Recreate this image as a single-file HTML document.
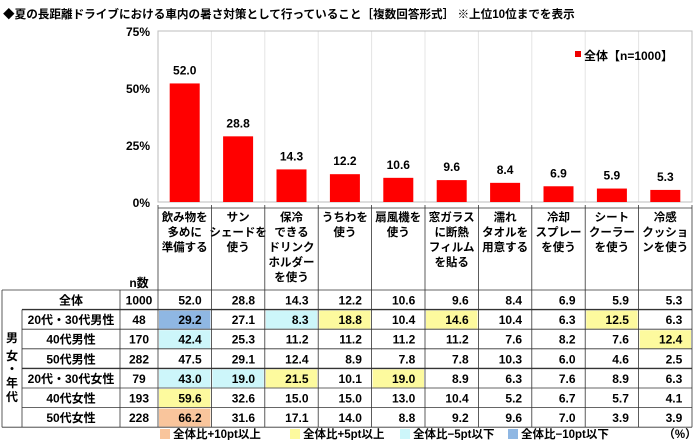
<!DOCTYPE html>
<html><head><meta charset="utf-8"><style>
body{margin:0;background:#fff}
svg{display:block;font-family:"Liberation Sans","Noto Sans CJK JP",sans-serif;font-weight:bold}
</style></head><body>
<svg width="700" height="440" viewBox="0 0 700 440" xmlns="http://www.w3.org/2000/svg">
<text x="3" y="18" font-size="11.6" fill="#000">◆夏の長距離ドライブにおける車内の暑さ対策として行っていること［複数回答形式］ ※上位10位までを表示</text>
<g id="chart"></g>
<g id="table"></g>
</svg>
<script>
const ns="http://www.w3.org/2000/svg";
function el(p,t,a,txt){const e=document.createElementNS(ns,t);for(const k in a)e.setAttribute(k,a[k]);if(txt!==undefined)e.textContent=txt;p.appendChild(e);return e;}
const C=document.getElementById('chart'),T=document.getElementById('table');
const x0=158,cw=53.4,y0=202,ppu=57/25;
const vals=[52.0,28.8,14.3,12.2,10.6,9.6,8.4,6.9,5.9,5.3];
for(let i=1;i<10;i++)el(C,'line',{x1:x0+i*cw,x2:x0+i*cw,y1:31,y2:y0,stroke:'#e4e4e4','stroke-width':1});
el(C,'rect',{x:x0,y:31,width:534,height:171,fill:'none',stroke:'#bdbdbd','stroke-width':1});
[['75%',31],['50%',88],['25%',145],['0%',202]].forEach(([t,y])=>el(C,'text',{x:150,y:y+5,'font-size':12,'text-anchor':'end'},t));
vals.forEach((v,i)=>{const cx=x0+i*cw+cw/2,h=v*ppu;
el(C,'rect',{x:cx-15,y:y0-h,width:30,height:h,fill:'#ff0000'});
el(C,'text',{x:cx,y:y0-h-9,'font-size':12,'text-anchor':'middle'},v.toFixed(1));});
el(C,'rect',{x:575,y:51,width:6,height:6,fill:'#e00'});
el(C,'text',{x:584,y:60,'font-size':12},'全体【n=1000】');
const heads=[['飲み物を','多めに','準備する'],['サン','シェードを','使う'],['保冷','できる','ドリンク','ホルダー','を使う'],['うちわを','使う'],['扇風機を','使う'],['窓ガラス','に断熱','フィルム','を貼る'],['濡れ','タオルを','用意する'],['冷却','スプレー','を使う'],['シート','クーラー','を使う'],['冷感','クッショ','ンを使う']];
heads.forEach((h,i)=>{const cx=x0+i*cw+cw/2;h.forEach((l,j)=>el(T,'text',{x:cx,y:221+j*15,'font-size':11.5,'text-anchor':'middle'},l));});
el(T,'text',{x:139,y:287,'font-size':12,'text-anchor':'middle'},'n数');
const rows=[['全体',1000,[52.0,28.8,14.3,12.2,10.6,9.6,8.4,6.9,5.9,5.3],''],
['20代・30代男性',48,[29.2,27.1,8.3,18.8,10.4,14.6,10.4,6.3,12.5,6.3],'b0cy0y00y0'],
['40代男性',170,[42.4,25.3,11.2,11.2,11.2,11.2,7.6,8.2,7.6,12.4],'c00000000y'],
['50代男性',282,[47.5,29.1,12.4,8.9,7.8,7.8,10.3,6.0,4.6,2.5],'0000000000'],
['20代・30代女性',79,[43.0,19.0,21.5,10.1,19.0,8.9,6.3,7.6,8.9,6.3],'ccy0y00000'],
['40代女性',193,[59.6,32.6,15.0,15.0,13.0,10.4,5.2,6.7,5.7,4.1],'y000000000'],
['50代女性',228,[66.2,31.6,17.1,14.0,8.8,9.2,9.6,7.0,3.9,3.9],'o000000000']];
const col={o:'#f9c59c',y:'#fdfa9e',c:'#cdf6fa',b:'#8fb7e3'};
const ry0=290,rh=19.6;
rows.forEach((r,k)=>{const y=ry0+k*rh;
for(let i=0;i<10;i++){const f=r[3][i];if(f&&f!=='0')el(T,'rect',{x:x0+i*cw+1,y:y+1,width:cw-2,height:rh-1.5,fill:col[f]});}
el(T,'text',{x:71,y:y+14.5,'font-size':12,'text-anchor':'middle'},r[0]);
el(T,'text',{x:139,y:y+14.5,'font-size':12,'text-anchor':'middle'},String(r[1]));
r[2].forEach((v,i)=>el(T,'text',{x:x0+i*cw+cw/2+17,y:y+14.5,'font-size':12,'text-anchor':'end'},v.toFixed(1)));
});
const L=(x1,y1,x2,y2,w)=>el(T,'line',{x1,y1,x2,y2,stroke:'#333','stroke-width':w||0.8});
for(let k=0;k<=7;k++){const y=ry0+k*rh;L(k==0?2:(k==7?2:22),y,692,y,(k==1||k==4)?1.4:0.8);}
L(2,ry0,2,ry0+7*rh);L(22,ry0+rh,22,ry0+7*rh);L(120,ry0,120,ry0+7*rh);
for(let i=0;i<=10;i++)L(x0+i*cw,205,x0+i*cw,ry0+7*rh);
L(x0,208,692,208);
[['男',342],['女',360],['・',373],['年',387],['代',401]].forEach(([c,y])=>el(T,'text',{x:12,y:y,'font-size':12,'text-anchor':'middle'},c));
const lg=[['#f9c59c',160,'全体比+10pt以上'],['#fdfa9e',290,'全体比+5pt以上'],['#cdf6fa',400,'全体比−5pt以下'],['#8fb7e3',508,'全体比−10pt以下']];
lg.forEach(([c,x,t])=>{el(T,'rect',{x:x,y:429,width:10,height:10,fill:c});el(T,'text',{x:x+13,y:438,'font-size':11.5},t);});
el(T,'text',{x:680,y:438,'font-size':11.5,'text-anchor':'middle'},'（%）');
</script>
</body></html>
